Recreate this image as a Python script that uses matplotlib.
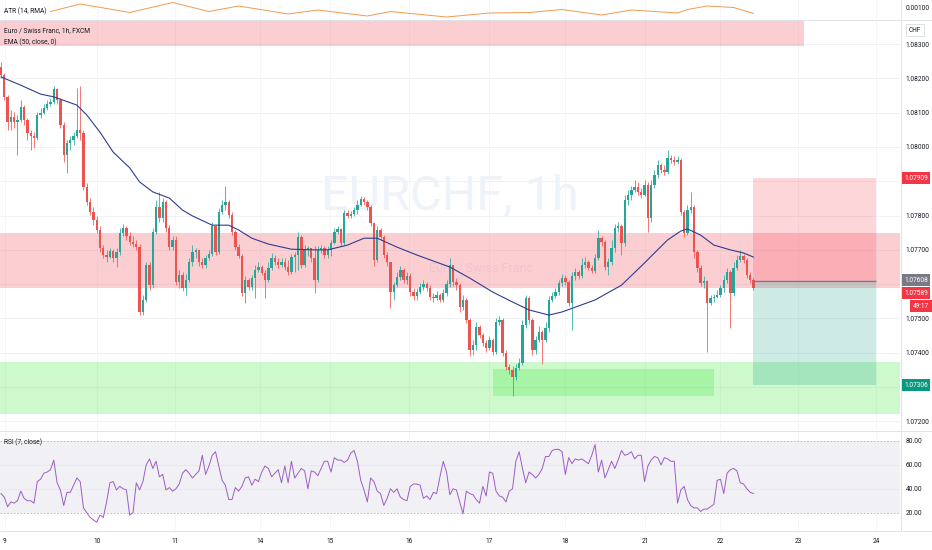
import numpy as np
import matplotlib.pyplot as plt
import matplotlib.transforms as mtransforms
from matplotlib.patches import Rectangle
from matplotlib.lines import Line2D

plt.rcParams['font.family'] = ['Roboto', 'DejaVu Sans']

# EUR/CHF 1h, FXCM. prices are in 1e-5 above 1.07000
first_open = 1233
close = [1210, 1146, 1073, 1087, 1073, 1078, 1116, 1078, 1041, 1032,
         1026, 1093, 1099, 1114, 1125, 1131, 1169, 1137, 1064, 976,
         1012, 1020, 1032, 1049, 1041, 883, 839, 810, 787, 758,
         705, 685, 679, 697, 676, 694, 749, 764, 740, 723,
         717, 708, 519, 554, 656, 597, 752, 825, 793, 839,
         764, 708, 729, 606, 627, 589, 612, 665, 694, 700,
         665, 656, 676, 688, 770, 694, 810, 831, 839, 802,
         752, 708, 682, 574, 612, 592, 618, 641, 650, 632,
         612, 647, 676, 665, 656, 665, 650, 635, 679, 685,
         737, 656, 700, 705, 676, 612, 700, 705, 685, 700,
         720, 752, 761, 720, 807, 799, 804, 816, 831, 848,
         839, 825, 778, 670, 758, 737, 685, 665, 577, 597,
         621, 641, 612, 624, 577, 565, 577, 592, 600, 589,
         563, 560, 568, 554, 574, 600, 656, 606, 597, 533,
         554, 495, 408, 423, 475, 452, 428, 414, 437, 402,
         490, 495, 399, 358, 350, 329, 356, 370, 481, 560,
         495, 408, 437, 461, 437, 472, 554, 565, 577, 603,
         618, 606, 545, 624, 635, 624, 656, 665, 647, 638,
         676, 734, 723, 650, 665, 705, 764, 770, 720, 845,
         860, 874, 883, 869, 860, 889, 793, 889, 918, 947,
         933, 927, 968, 962, 956, 962, 810, 749, 816, 825,
         694, 647, 603, 609, 545, 560, 563, 568, 589, 612,
         635, 574, 647, 670, 682, 670, 627, 612, 589]
high = [1248, 1216, 1151, 1108, 1102, 1093, 1137, 1122, 1084, 1049,
        1044, 1102, 1114, 1125, 1137, 1143, 1178, 1172, 1143, 1073,
        1020, 1032, 1044, 1172, 1178, 1049, 895, 851, 825, 799,
        770, 714, 700, 705, 702, 705, 764, 775, 770, 752,
        740, 729, 717, 568, 665, 665, 764, 845, 869, 851,
        845, 772, 740, 740, 641, 635, 630, 676, 714, 705,
        700, 676, 685, 700, 781, 770, 822, 845, 886, 845,
        810, 758, 717, 688, 624, 618, 627, 656, 665, 656,
        641, 665, 691, 685, 676, 676, 676, 670, 688, 694,
        752, 743, 714, 711, 705, 711, 711, 714, 711, 711,
        729, 764, 770, 764, 816, 816, 813, 825, 845, 857,
        854, 845, 831, 781, 770, 764, 743, 694, 665, 606,
        635, 653, 647, 635, 632, 589, 589, 603, 612, 606,
        597, 574, 580, 574, 586, 612, 676, 656, 618, 603,
        568, 560, 501, 437, 490, 481, 458, 437, 449, 443,
        501, 507, 501, 408, 367, 361, 367, 385, 495, 568,
        565, 501, 449, 478, 466, 490, 565, 577, 589, 612,
        630, 627, 612, 635, 647, 641, 676, 679, 670, 656,
        688, 758, 740, 729, 676, 729, 775, 781, 775, 860,
        874, 886, 904, 898, 880, 904, 898, 904, 933, 962,
        953, 947, 991, 976, 974, 974, 968, 816, 831, 869,
        831, 700, 656, 624, 612, 568, 571, 583, 597, 627,
        647, 641, 665, 685, 700, 688, 676, 635, 618]
low = [1201, 1137, 1049, 1049, 1055, 976, 1073, 1064, 1020, 991,
       997, 1020, 1084, 1096, 1108, 1119, 1125, 1125, 1055, 956,
       924, 991, 1006, 1026, 1020, 874, 831, 802, 772, 749,
       694, 676, 665, 676, 665, 650, 685, 740, 729, 714,
       708, 700, 510, 510, 548, 583, 589, 746, 781, 781,
       752, 700, 700, 597, 589, 580, 568, 606, 653, 676,
       653, 647, 647, 670, 682, 685, 688, 804, 816, 793,
       743, 700, 676, 565, 545, 583, 583, 560, 635, 627,
       560, 606, 641, 656, 647, 650, 641, 627, 630, 635,
       641, 647, 650, 682, 665, 574, 606, 691, 676, 676,
       682, 717, 746, 711, 714, 793, 793, 799, 804, 828,
       831, 816, 770, 653, 665, 729, 676, 653, 530, 554,
       592, 612, 603, 600, 565, 554, 554, 571, 583, 580,
       554, 548, 554, 548, 548, 565, 592, 595, 583, 519,
       525, 487, 391, 393, 408, 443, 420, 402, 408, 393,
       396, 481, 391, 350, 338, 274, 320, 350, 364, 472,
       484, 393, 396, 431, 367, 431, 461, 548, 560, 568,
       595, 597, 536, 466, 612, 615, 618, 647, 641, 632,
       632, 670, 711, 641, 627, 656, 694, 752, 685, 711,
       831, 845, 869, 860, 851, 857, 752, 781, 880, 909,
       924, 918, 921, 953, 947, 950, 802, 737, 743, 807,
       676, 635, 595, 589, 402, 539, 548, 560, 562, 577,
       603, 472, 565, 641, 665, 662, 618, 603, 583]

ema_bar = [0, 6, 12, 16, 23, 26, 30, 34, 39, 42, 46, 51, 55, 58, 64, 69, 72, 76, 81, 88,
           95, 99, 105, 110, 114, 120, 126, 136, 142, 149, 155, 160, 166, 170, 174, 180,
           188, 195, 198, 202, 206, 208, 212, 216, 221, 225, 228]
ema_val = [1204, 1180, 1154, 1146, 1122, 1093, 1043, 985, 939, 898, 869, 851, 816, 799, 772,
           772, 758, 734, 717, 702, 700, 700, 714, 734, 734, 708, 685, 650, 618, 577, 548,
           525, 510, 519, 533, 554, 597, 662, 691, 729, 755, 761, 743, 714, 700, 691, 679]

atr_bar = [15, 24, 39, 52, 63, 72, 87, 96, 111, 118, 135, 148, 160, 170, 182, 191, 205, 208,
           214, 222, 228]
atr_val = [0.00091, 0.00106, 0.00089, 0.00109, 0.00091, 0.00102, 0.00086, 0.00094, 0.00082,
           0.00091, 0.00080, 0.00088, 0.00089, 0.00095, 0.00084, 0.00094, 0.00088, 0.00095,
           0.00102, 0.00099, 0.00087]

rsi = [36, 33, 25, 29, 28, 30, 38, 32, 30, 30, 28, 46, 48, 53, 54, 56, 64, 45, 39, 26,
       37, 37, 43, 49, 46, 24, 20, 16, 14, 12, 18, 16, 29, 45, 46, 39, 42, 40, 39, 18,
       20, 45, 39, 46, 60, 65, 57, 63, 50, 52, 39, 41, 38, 40, 44, 53, 56, 53, 49, 52,
       55, 68, 52, 59, 68, 71, 59, 47, 43, 31, 31, 41, 38, 42, 49, 50, 43, 48, 46, 54,
       59, 57, 50, 53, 56, 45, 59, 45, 63, 49, 53, 57, 55, 40, 55, 54, 51, 57, 63, 63,
       54, 66, 64, 64, 62, 64, 70, 72, 63, 47, 39, 29, 49, 46,
       38, 36, 26, 32, 40, 37, 40, 33, 31, 30, 42, 44, 44, 43, 32, 34, 31, 37, 36, 50,
       63, 54, 35, 40, 39, 29, 19, 38, 36, 35, 31, 28, 42, 34, 54, 53, 38, 34, 33, 29,
       38, 40, 63, 71, 57, 45, 54, 52, 49, 52, 57, 67, 67, 72, 73, 73, 71, 52, 66, 61,
       65, 64, 65, 63, 61, 68, 77, 54, 64, 49, 56, 63, 57, 64, 72, 68, 69, 71, 65, 68,
       68, 46, 59, 64, 67, 66, 60, 66, 65, 63, 63, 28, 39, 42, 31, 26, 24, 24, 21, 23,
       23, 25, 27, 47, 48, 36, 53, 56, 57, 55, 45, 44, 40, 37, 36]

day_pos = [1.2, 29.1, 52.7, 78.5, 99.7, 123.6, 147.9, 170.9, 195.2, 217.9, 241.5, 265.2]
day_lbl = ['9', '10', '11', '14', '15', '16', '17', '18', '21', '22', '23', '24']

price_ticks = [1.072, 1.074, 1.075, 1.077, 1.078, 1.080, 1.081, 1.082, 1.083]
grid_levels = [1.072, 1.073, 1.074, 1.075, 1.076, 1.077, 1.078, 1.079, 1.080, 1.081, 1.082, 1.083]

red_zone = (1.07590, 1.07750)
green_zone = (1.07222, 1.07373)
top_zone = (1.08294, 1.08400, 243.6)
box_zone = (149.1, 216.1, 1.07274, 1.07352)
entry, stop, target, last = 1.07608, 1.07909, 1.07306, 1.07589
pos_bars = (228, 265.2)

GREEN = '#26a69a'
RED = '#ef5350'
TXT = '#131722'
W, H = 932, 550

def P(a):
    return 1.07 + np.asarray(a, dtype=float) / 1e5

fig = plt.figure(figsize=(W / 100, H / 100), dpi=100)
ax_atr = fig.add_axes([0, 1 - 19 / H, 900 / W, 19 / H])
ax = fig.add_axes([0, 120 / H, 900 / W, 410 / H])
ax_rsi = fig.add_axes([0, 20 / H, 900 / W, 98 / H])

for a in (ax_atr, ax, ax_rsi):
    a.set_xlim(-0.3, 272.4)
    for s in a.spines.values():
        s.set_visible(False)
    a.yaxis.tick_right()
    a.tick_params(axis='y', length=0, labelsize=4.7, pad=4, labelcolor=TXT)
    for d in day_pos:
        a.axvline(d, color='#f4f5f8', lw=0.6, zorder=0)

# ---- main price panel
ax.set_ylim(1.07175, 1.08370)
for lv in grid_levels:
    ax.axhline(lv, color='#eef0f5', lw=0.6, zorder=0)
ax.set_yticks(price_ticks)
ax.set_yticklabels(['%.5f' % t for t in price_ticks])
ax.set_xticks([])

ax.text(0.5, 0.568, 'EURCHF, 1h', transform=ax.transAxes, ha='center', va='center',
        fontsize=35, color='#eef2f9', zorder=0)
ax.text(0.535, 0.395, 'Euro / Swiss Franc', transform=ax.transAxes, ha='center', va='center',
        fontsize=9, color='#eef2f9', zorder=0)

ax.axhspan(*red_zone, color='#f23645', alpha=0.24, lw=0, zorder=1)
ax.axhspan(*green_zone, color='#2ee62e', alpha=0.24, lw=0, zorder=1)
ax.add_patch(Rectangle((-0.3, top_zone[0]), top_zone[2], top_zone[1] - top_zone[0],
                       color='#f23645', alpha=0.24, lw=0, zorder=1))
ax.add_patch(Rectangle((box_zone[0], box_zone[2]), box_zone[1] - box_zone[0],
                       box_zone[3] - box_zone[2], color='#2ee62e', alpha=0.24, lw=0, zorder=1))

o = np.array([first_open] + close[:-1], dtype=float)
c = np.array(close, dtype=float)
x = np.arange(len(close))
cols = np.where(c >= o, GREEN, RED)
ax.vlines(x, P(low), P(high), colors=cols, lw=0.55, zorder=3)
hgt = np.where(np.abs(c - o) < 2, 2, c - o)
ax.bar(x, hgt / 1e5, bottom=P(o), width=0.72, color=cols, lw=0, zorder=4)

ax.plot(ema_bar, P(ema_val), color='#2f3d8f', lw=0.8, zorder=5)

ax.add_patch(Rectangle((pos_bars[0], entry), pos_bars[1] - pos_bars[0], stop - entry,
                       color='#f23645', alpha=0.2, lw=0, zorder=6))
ax.add_patch(Rectangle((pos_bars[0], target), pos_bars[1] - pos_bars[0], entry - target,
                       color='#089981', alpha=0.2, lw=0, zorder=6))
ax.hlines(entry, pos_bars[0], pos_bars[1], color='#787b86', lw=1.0, zorder=7)

fig.text(4 / W, 1 - 31 / H, 'Euro / Swiss Franc, 1h, FXCM', fontsize=4.8, color=TXT, va='center')
fig.text(4 / W, 1 - 42 / H, 'EMA (50, close, 0)', fontsize=4.8, color=TXT, va='center')

# price tags on the scale (tags pushed apart where they would overlap, as on the chart)
tr = mtransforms.blended_transform_factory(fig.transFigure, ax.transData)
def tag(y, s, fc, xp=904):
    ax.text(xp / W, y, s, transform=tr, ha='left', va='center', fontsize=4.7, color='white',
            bbox=dict(boxstyle='square,pad=0.4', fc=fc, ec='none'), clip_on=False, zorder=10)
tag(stop, '%.5f' % stop, '#f23645')
tag(entry + 0.00004, '%.5f' % entry, '#787b86')
tag(last - 0.00015, '%.5f' % last, '#f23645')
tag(last - 0.00053, '49:17', '#f23645', xp=913)
tag(target, '%.5f' % target, '#089981')
ax.text(915 / W, 1.08340, 'CHF', transform=tr, ha='center', va='center', fontsize=4.7,
        color=TXT, bbox=dict(boxstyle='square,pad=0.4', fc='white', ec='#d1d4dc', lw=0.5),
        clip_on=False, zorder=10)

# ---- ATR panel
ax_atr.set_ylim(0.00076, 0.00114)
ax_atr.plot(atr_bar, atr_val, color='#f29a4e', lw=0.7)
ax_atr.set_yticks([0.001])
ax_atr.set_yticklabels(['0.00100'])
ax_atr.set_xticks([])
fig.text(4 / W, 1 - 11 / H, 'ATR (14, RMA)', fontsize=4.8, color=TXT, va='center')

# ---- RSI panel
ax_rsi.set_ylim(5.5, 87.5)
ax_rsi.axhspan(20, 80, color='#f1f1f5', lw=0, zorder=0)
for lv in (40, 60):
    ax_rsi.axhline(lv, color='#e7e7ee', lw=0.6, zorder=1)
for lv in (20, 80):
    ax_rsi.axhline(lv, color='#b2b5be', lw=0.6, ls=(0, (2, 2)), zorder=1)
ax_rsi.plot(np.arange(len(rsi)), rsi, color='#9c5cc6', lw=0.7, zorder=3)
ax_rsi.set_yticks([20, 40, 60, 80])
ax_rsi.set_yticklabels(['20.00', '40.00', '60.00', '80.00'])
ax_rsi.set_xticks(day_pos)
ax_rsi.set_xticklabels(day_lbl)
ax_rsi.tick_params(axis='x', length=0, labelsize=4.7, pad=6, labelcolor=TXT)
fig.text(4 / W, 1 - 442 / H, 'RSI (7, close)', fontsize=4.8, color=TXT, va='center')

# panel separators
sep = '#e0e3eb'
for py in (19.5, 431, 530.5):
    fig.add_artist(Line2D([0, 1], [1 - py / H, 1 - py / H], color=sep, lw=0.7,
                          transform=fig.transFigure))
fig.add_artist(Line2D([900.5 / W, 900.5 / W], [1 - 530.5 / H, 1], color=sep, lw=0.7,
                      transform=fig.transFigure))

fig.savefig('out.png', dpi=100, facecolor='white')
